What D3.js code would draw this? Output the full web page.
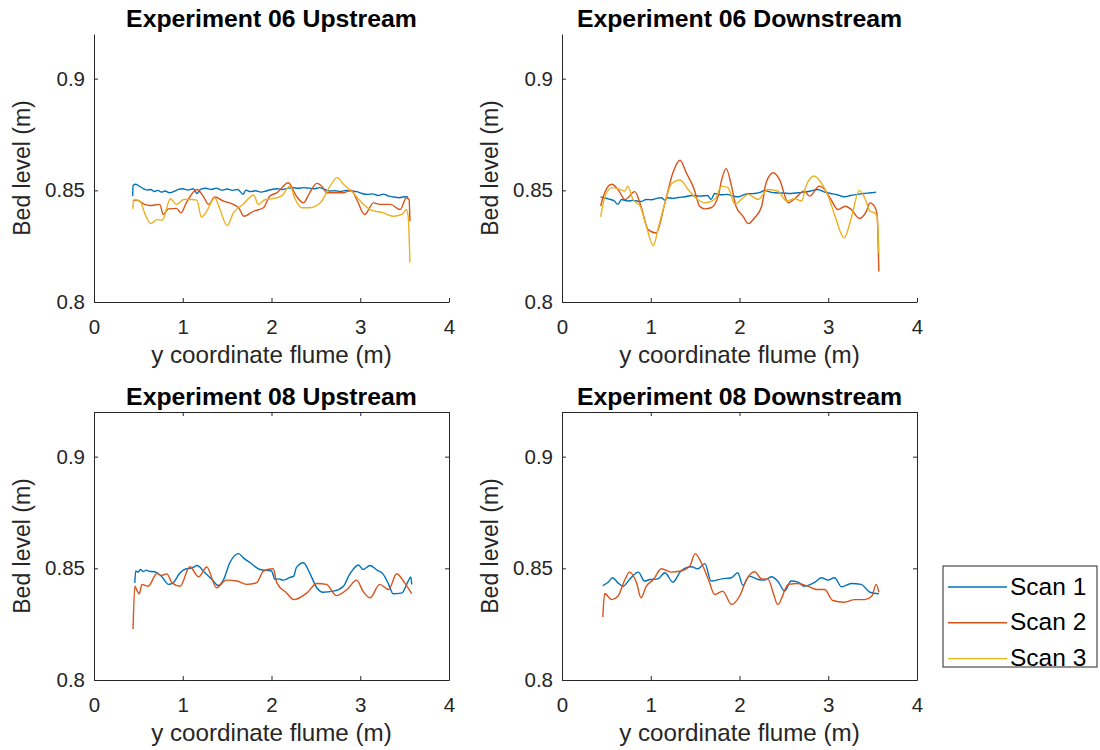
<!DOCTYPE html>
<html>
<head>
<meta charset="utf-8">
<script src="https://cdn.jsdelivr.net/npm/d3@7"></script>
<style>
  html, body { margin: 0; padding: 0; background: #fff; }
  svg { display: block; font-family: "Liberation Sans", Arial, sans-serif; }
</style>
</head>
<body>
<svg id="chart" width="1100" height="750"></svg>
<script>
// Cross-flume bed level profiles, [y coordinate (m), bed level (m)]
const xTicks = [0, 1, 2, 3, 4];
const yTicks = [0.8, 0.85, 0.9];
const scanNames = ["Scan 1", "Scan 2", "Scan 3"];
const scanColors = ["#0072BD", "#D95319", "#EDB120"];
const panelTitles = ["Experiment 06 Upstream", "Experiment 06 Downstream",
                     "Experiment 08 Upstream", "Experiment 08 Downstream"];

const exp06UpScan1 = [[0.436,0.8474],[0.44,0.8522],[0.47,0.8527],[0.52,0.8516],[0.56,0.8507],[0.60,0.8501],[0.64,0.8504],[0.68,0.8495],[0.72,0.8500],[0.76,0.8492],[0.80,0.8497],[0.85,0.8489],[0.90,0.8495],[0.95,0.8504],[1.00,0.8507],[1.06,0.8501],[1.12,0.8507],[1.16,0.8486],[1.20,0.8504],[1.26,0.8509],[1.32,0.8504],[1.38,0.8510],[1.44,0.8501],[1.50,0.8506],[1.56,0.8500],[1.62,0.8504],[1.68,0.8482],[1.71,0.8501],[1.76,0.8494],[1.82,0.8498],[1.88,0.8492],[1.94,0.8497],[2.00,0.8504],[2.06,0.8507],[2.12,0.8504],[2.18,0.8509],[2.24,0.8512],[2.30,0.8509],[2.36,0.8512],[2.42,0.8510],[2.48,0.8507],[2.54,0.8512],[2.60,0.8504],[2.66,0.8497],[2.72,0.8498],[2.78,0.8495],[2.84,0.8500],[2.90,0.8497],[2.96,0.8494],[3.02,0.8486],[3.08,0.8482],[3.14,0.8484],[3.20,0.8477],[3.26,0.8483],[3.32,0.8474],[3.38,0.8470],[3.44,0.8467],[3.50,0.8471],[3.54,0.8470]];
const exp06UpScan2 = [[0.436,0.8452],[0.48,0.8456],[0.57,0.8437],[0.63,0.8432],[0.74,0.8437],[0.78,0.8392],[0.84,0.8417],[0.93,0.8419],[0.98,0.8399],[1.04,0.8444],[1.16,0.8504],[1.23,0.8474],[1.29,0.8437],[1.36,0.8470],[1.46,0.8452],[1.57,0.8437],[1.63,0.8422],[1.69,0.8384],[1.80,0.8407],[1.91,0.8422],[1.98,0.8474],[2.06,0.8489],[2.19,0.8534],[2.28,0.8474],[2.36,0.8444],[2.43,0.8489],[2.51,0.8531],[2.58,0.8512],[2.62,0.8489],[2.81,0.8489],[2.90,0.8501],[2.96,0.8459],[3.05,0.8392],[3.15,0.8444],[3.22,0.8437],[3.34,0.8437],[3.45,0.8414],[3.52,0.8467],[3.55,0.8459],[3.56,0.8362]];
const exp06UpScan3 = [[0.436,0.8417],[0.45,0.8459],[0.52,0.8452],[0.57,0.8399],[0.64,0.8351],[0.71,0.8369],[0.77,0.8366],[0.86,0.8462],[0.93,0.8437],[1.01,0.8459],[1.10,0.8459],[1.16,0.8456],[1.21,0.8380],[1.27,0.8407],[1.36,0.8467],[1.42,0.8414],[1.50,0.8342],[1.57,0.8399],[1.68,0.8437],[1.80,0.8479],[1.85,0.8437],[1.93,0.8459],[2.00,0.8462],[2.11,0.8474],[2.21,0.8519],[2.26,0.8467],[2.34,0.8422],[2.43,0.8422],[2.55,0.8444],[2.66,0.8519],[2.74,0.8557],[2.81,0.8527],[2.92,0.8489],[3.00,0.8452],[3.11,0.8414],[3.26,0.8399],[3.37,0.8384],[3.47,0.8392],[3.52,0.8414],[3.54,0.8384],[3.56,0.8177]];

const exp06DownScan1 = [[0.436,0.8471],[0.47,0.8467],[0.52,0.8462],[0.59,0.8452],[0.63,0.8437],[0.67,0.8459],[0.74,0.8452],[0.80,0.8455],[0.89,0.8450],[0.95,0.8459],[1.01,0.8458],[1.08,0.8465],[1.12,0.8467],[1.16,0.8456],[1.19,0.8467],[1.25,0.8464],[1.31,0.8468],[1.38,0.8471],[1.46,0.8477],[1.55,0.8474],[1.64,0.8477],[1.68,0.8459],[1.72,0.8486],[1.79,0.8480],[1.86,0.8482],[1.93,0.8474],[1.98,0.8471],[2.06,0.8482],[2.13,0.8485],[2.17,0.8486],[2.24,0.8492],[2.28,0.8500],[2.35,0.8492],[2.40,0.8489],[2.48,0.8488],[2.58,0.8486],[2.66,0.8489],[2.73,0.8492],[2.80,0.8497],[2.88,0.8504],[2.96,0.8492],[3.03,0.8486],[3.10,0.8480],[3.18,0.8471],[3.25,0.8477],[3.33,0.8482],[3.40,0.8486],[3.48,0.8489],[3.54,0.8492]];
const exp06DownScan2 = [[0.436,0.8429],[0.46,0.8467],[0.56,0.8527],[0.63,0.8504],[0.71,0.8459],[0.82,0.8494],[0.89,0.8429],[0.97,0.8324],[1.06,0.8309],[1.16,0.8444],[1.25,0.8579],[1.33,0.8635],[1.40,0.8579],[1.49,0.8504],[1.55,0.8429],[1.61,0.8417],[1.68,0.8422],[1.76,0.8474],[1.80,0.8549],[1.85,0.8597],[1.91,0.8519],[1.96,0.8429],[2.04,0.8384],[2.10,0.8351],[2.17,0.8377],[2.25,0.8429],[2.30,0.8534],[2.38,0.8579],[2.45,0.8549],[2.55,0.8444],[2.62,0.8462],[2.73,0.8497],[2.79,0.8474],[2.90,0.8519],[2.96,0.8504],[3.03,0.8459],[3.11,0.8414],[3.19,0.8429],[3.26,0.8414],[3.35,0.8374],[3.43,0.8407],[3.47,0.8444],[3.52,0.8429],[3.55,0.8392],[3.57,0.8137]];
const exp06DownScan3 = [[0.436,0.8381],[0.48,0.8467],[0.56,0.8512],[0.65,0.8504],[0.71,0.8497],[0.74,0.8519],[0.80,0.8459],[0.88,0.8429],[0.95,0.8339],[1.03,0.8252],[1.08,0.8324],[1.16,0.8444],[1.23,0.8527],[1.33,0.8546],[1.42,0.8504],[1.53,0.8459],[1.61,0.8444],[1.72,0.8459],[1.80,0.8519],[1.87,0.8512],[1.95,0.8437],[2.02,0.8459],[2.10,0.8482],[2.21,0.8459],[2.32,0.8504],[2.43,0.8497],[2.53,0.8452],[2.62,0.8462],[2.70,0.8452],[2.75,0.8519],[2.84,0.8564],[2.92,0.8534],[3.00,0.8474],[3.07,0.8392],[3.18,0.8287],[3.26,0.8377],[3.35,0.8500],[3.41,0.8467],[3.47,0.8407],[3.52,0.8399],[3.55,0.8384],[3.57,0.8219]];

const exp08UpScan1 = [[0.46,0.8435],[0.47,0.8488],[0.50,0.8483],[0.52,0.8495],[0.56,0.8486],[0.59,0.8492],[0.63,0.8486],[0.68,0.8485],[0.71,0.8480],[0.76,0.8465],[0.84,0.8428],[0.89,0.8435],[0.97,0.8480],[1.04,0.8498],[1.10,0.8501],[1.16,0.8513],[1.25,0.8480],[1.33,0.8450],[1.40,0.8423],[1.46,0.8450],[1.53,0.8525],[1.63,0.8566],[1.68,0.8548],[1.76,0.8525],[1.87,0.8495],[2.00,0.8488],[2.04,0.8450],[2.08,0.8453],[2.13,0.8447],[2.20,0.8458],[2.25,0.8465],[2.28,0.8503],[2.36,0.8525],[2.43,0.8480],[2.51,0.8413],[2.58,0.8393],[2.70,0.8398],[2.81,0.8420],[2.88,0.8473],[2.98,0.8515],[3.03,0.8495],[3.11,0.8513],[3.19,0.8492],[3.26,0.8473],[3.32,0.8428],[3.37,0.8386],[3.47,0.8390],[3.54,0.8443],[3.57,0.8461],[3.58,0.8428]];
const exp08UpScan2 = [[0.44,0.8228],[0.46,0.8420],[0.48,0.8405],[0.51,0.8386],[0.54,0.8428],[0.61,0.8420],[0.71,0.8477],[0.76,0.8468],[0.82,0.8475],[0.88,0.8435],[0.97,0.8420],[1.08,0.8507],[1.18,0.8462],[1.27,0.8506],[1.38,0.8413],[1.49,0.8447],[1.61,0.8443],[1.72,0.8428],[1.83,0.8435],[1.91,0.8488],[2.02,0.8498],[2.06,0.8435],[2.17,0.8390],[2.25,0.8360],[2.40,0.8390],[2.51,0.8432],[2.62,0.8428],[2.73,0.8378],[2.85,0.8405],[2.96,0.8447],[3.03,0.8398],[3.11,0.8368],[3.22,0.8428],[3.32,0.8405],[3.41,0.8476],[3.50,0.8435],[3.58,0.8387]];

const exp08DownScan1 = [[0.46,0.8423],[0.52,0.8438],[0.57,0.8458],[0.63,0.8435],[0.69,0.8420],[0.76,0.8450],[0.86,0.8483],[0.93,0.8443],[0.99,0.8450],[1.08,0.8453],[1.16,0.8480],[1.25,0.8438],[1.34,0.8488],[1.46,0.8507],[1.53,0.8498],[1.61,0.8521],[1.68,0.8443],[1.80,0.8453],[1.91,0.8458],[1.98,0.8480],[2.04,0.8423],[2.11,0.8465],[2.21,0.8450],[2.28,0.8447],[2.36,0.8462],[2.43,0.8443],[2.51,0.8398],[2.58,0.8443],[2.66,0.8438],[2.73,0.8420],[2.85,0.8438],[2.92,0.8458],[3.00,0.8447],[3.07,0.8458],[3.15,0.8417],[3.26,0.8432],[3.37,0.8428],[3.47,0.8393],[3.57,0.8386]];
const exp08DownScan2 = [[0.46,0.8282],[0.48,0.8387],[0.56,0.8360],[0.63,0.8375],[0.71,0.8450],[0.76,0.8483],[0.84,0.8435],[0.89,0.8368],[0.95,0.8420],[1.03,0.8450],[1.12,0.8498],[1.23,0.8483],[1.34,0.8488],[1.44,0.8510],[1.50,0.8566],[1.57,0.8525],[1.65,0.8450],[1.72,0.8383],[1.81,0.8398],[1.91,0.8338],[2.00,0.8375],[2.08,0.8450],[2.17,0.8485],[2.25,0.8453],[2.32,0.8453],[2.38,0.8390],[2.43,0.8338],[2.55,0.8428],[2.66,0.8432],[2.77,0.8420],[2.87,0.8405],[2.96,0.8405],[3.05,0.8356],[3.18,0.8348],[3.30,0.8360],[3.41,0.8360],[3.49,0.8375],[3.54,0.8428],[3.57,0.8393]];

const panels = [
  { title: panelTitles[0], series: [exp06UpScan1, exp06UpScan2, exp06UpScan3], left: 94,  top: 34,  box: false },
  { title: panelTitles[1], series: [exp06DownScan1, exp06DownScan2, exp06DownScan3], left: 562, top: 34, box: false },
  { title: panelTitles[2], series: [exp08UpScan1, exp08UpScan2], left: 94,  top: 412, box: true },
  { title: panelTitles[3], series: [exp08DownScan1, exp08DownScan2], left: 562, top: 412, box: true }
];

const W = 355, H = 268;
const axisColor = "#262626";
const svg = d3.select("#chart");

panels.forEach(p => {
  const g = svg.append("g").attr("transform", `translate(${p.left},${p.top})`);
  const x = d3.scaleLinear().domain([0, 4]).range([0, W]);
  const y = d3.scaleLinear().domain([0.8, 0.92]).range([H, 0]);

  const line = d3.line()
    .x(d => x(d[0])).y(d => y(d[1]))
    .curve(d3.curveMonotoneX);

  p.series.forEach((s, i) => {
    g.append("path").datum(s)
      .attr("fill", "none")
      .attr("stroke", scanColors[i])
      .attr("stroke-width", 1.4)
      .attr("stroke-linejoin", "round")
      .attr("d", line);
  });

  const styleAxis = sel => {
    sel.selectAll("path.domain").attr("stroke", axisColor).attr("stroke-width", 1);
    sel.selectAll(".tick line").attr("stroke", axisColor).attr("stroke-width", 1);
    sel.selectAll(".tick text").attr("fill", axisColor)
      .style("font-size", "20.5px").style("font-family", "'Liberation Sans', Arial, sans-serif");
  };

  g.append("g").attr("transform", `translate(0,${H})`)
    .call(d3.axisBottom(x).tickValues(xTicks).tickFormat(d3.format("d"))
      .tickSizeInner(-4).tickSizeOuter(0).tickPadding(17))
    .call(styleAxis);

  g.append("g")
    .call(d3.axisLeft(y).tickValues(yTicks).tickFormat(d => d3.format("")(+d.toFixed(2)))
      .tickSizeInner(-4).tickSizeOuter(0).tickPadding(9))
    .call(styleAxis);

  if (p.box) {
    g.append("g")
      .call(d3.axisTop(x).tickValues(xTicks).tickFormat("").tickSizeInner(-4).tickSizeOuter(0))
      .call(styleAxis);
    g.append("g").attr("transform", `translate(${W},0)`)
      .call(d3.axisRight(y).tickValues(yTicks).tickFormat("").tickSizeInner(-4).tickSizeOuter(0))
      .call(styleAxis);
  }

  g.append("text")
    .attr("x", W / 2).attr("y", -7)
    .attr("text-anchor", "middle")
    .attr("font-size", 24.8).attr("font-weight", "bold")
    .attr("fill", "#000")
    .text(p.title);

  g.append("text")
    .attr("x", W / 2).attr("y", H + 61)
    .attr("text-anchor", "middle")
    .attr("font-size", 24.2)
    .attr("fill", axisColor)
    .text("y coordinate flume (m)");

  g.append("text")
    .attr("transform", `translate(-64,${H / 2}) rotate(-90)`)
    .attr("text-anchor", "middle")
    .attr("font-size", 23)
    .attr("fill", axisColor)
    .text("Bed level (m)");
});

// Legend
const legend = svg.append("g").attr("transform", "translate(943,566)");
legend.append("rect")
  .attr("x", 0).attr("y", 0).attr("width", 154).attr("height", 101)
  .attr("fill", "#fff").attr("stroke", axisColor).attr("stroke-width", 1);
scanNames.forEach((name, i) => {
  const cy = 21 + i * 35.8;
  legend.append("line")
    .attr("x1", 5).attr("x2", 64).attr("y1", cy).attr("y2", cy)
    .attr("stroke", scanColors[i]).attr("stroke-width", 1.4);
  legend.append("text")
    .attr("x", 67).attr("y", cy + 7.5)
    .attr("font-size", 24.5)
    .attr("fill", "#000")
    .text(name);
});
</script>
</body>
</html>
